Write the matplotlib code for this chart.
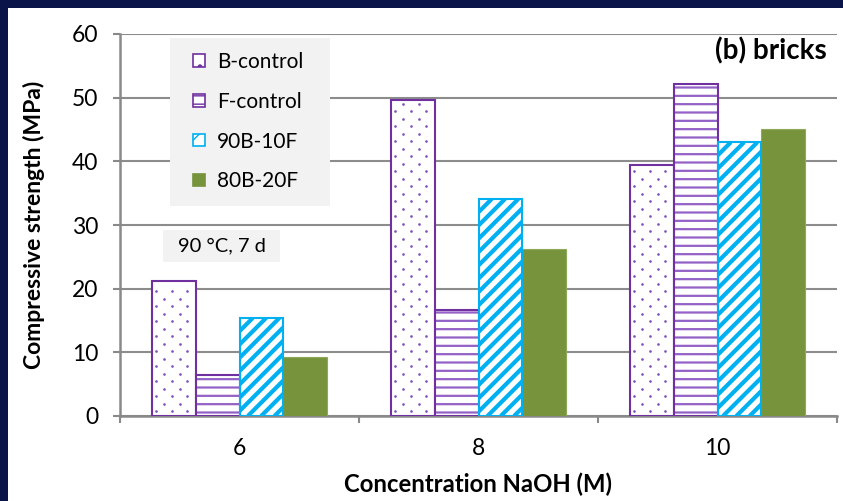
import matplotlib.pyplot as plt
from matplotlib.patches import Rectangle, Patch
from matplotlib.collections import LineCollection
import numpy as np

# compressive strength (MPa) of brick mixes vs NaOH concentration
concentrations = ['6', '8', '10']
series_names = ['B-control', 'F-control', '90B-10F', '80B-20F']
b_control = [21.2, 49.6, 39.5]
f_control = [6.5, 16.7, 52.1]
b90_f10 = [15.4, 34.1, 43.0]
b80_f20 = [9.2, 26.3, 45.1]

plt.rcParams['font.family'] = ['Lato', 'DejaVu Sans']

PURPLE = '#7030A0'
LILAC = '#9461C6'
CYAN = '#00B0F0'
GREEN = '#77933C'
GREY_BOX = '#F2F2F2'

fig = plt.figure(figsize=(8.43, 5.01), dpi=100)
fig.patch.set_facecolor('#0A1448')
# white panel inside the dark frame
fig.add_artist(Rectangle((8 / 843, 0), 1, (501 - 8) / 501, transform=fig.transFigure,
                         facecolor='white', edgecolor='none', zorder=-10))

ax = fig.add_axes([120 / 843, 85 / 501, 717 / 843, 382 / 501])
ax.set_facecolor('none')
ax.set_zorder(2)
ax.set_xlim(-0.5, 2.5)
ax.set_ylim(0, 60)

x = np.arange(len(concentrations))
width = 0.183
pos = [x + (i - 1.5) * width for i in range(4)]

# B-control: white bars, purple outline, dotted fill added below
b_bars = ax.bar(pos[0], b_control, width, facecolor='white', edgecolor=PURPLE,
                linewidth=1.5, zorder=3)

# F-control: light purple horizontal lines under a darker outline
with plt.rc_context({'hatch.linewidth': 1.6}):
    f_fill = ax.bar(pos[1], f_control, width, facecolor='white', edgecolor=LILAC,
                    hatch='--', linewidth=0, zorder=3)
for p in f_fill:
    if hasattr(p, 'set_hatch_linewidth'):
        p.set_hatch_linewidth(1.6)
ax.bar(pos[1], f_control, width, fill=False, edgecolor=PURPLE, linewidth=1.5, zorder=3.3)

# 90B-10F: white bars with cyan diagonal stripes, outline on top
c_bars = ax.bar(pos[2], b90_f10, width, facecolor='white', edgecolor='none',
                linewidth=0, zorder=3)
ax.bar(pos[2], b90_f10, width, fill=False, edgecolor=CYAN, linewidth=1.5, zorder=3.3)

# 80B-20F: solid green
ax.bar(pos[3], b80_f20, width, facecolor=GREEN, edgecolor='#8FA95A',
       linewidth=0.8, zorder=3)

inv = ax.transData.inverted()


def pixel_box(p):
    return ax.transData.transform(
        [(p.get_x(), 0), (p.get_x() + p.get_width(), p.get_height())])


# dot texture for the B-control bars (staggered rows, pixel spacing)
for p in b_bars:
    (x0, y0), (x1, y1) = pixel_box(p)
    pts = []
    row = 0
    yy = y0 + 5
    while yy < y1 - 3:
        xs = np.arange(x0 + 4 + (7.8 if row % 2 else 0), x1 - 2, 15.7)
        pts += [(xv, yy) for xv in xs]
        yy += 7.5
        row += 1
    d = inv.transform(np.array(pts))
    ax.scatter(d[:, 0], d[:, 1], s=3.6, color='#8250B8', linewidths=0, zorder=3.5)

# stripe texture for the 90B-10F bars
for p in c_bars:
    (x0, y0), (x1, y1) = pixel_box(p)
    h = y1 - y0
    segs = [inv.transform([(c, y0), (c + h, y1)])
            for c in np.arange(x0 - h - 13.3, x1 + 13.3, 13.3)]
    lc = LineCollection(segs, colors=CYAN, linewidths=3.0, zorder=3.1)
    ax.add_collection(lc, autolim=False)
    lc.set_clip_path(p)

ax.set_yticks(range(0, 61, 10))
ax.set_xticks(x)
ax.set_xticklabels(concentrations)
ax.set_xticks([-0.5, 0.5, 1.5, 2.5], minor=True)
ax.tick_params(axis='x', which='major', length=0, labelsize=16.5, pad=15.5)
ax.tick_params(axis='x', which='minor', length=5, width=1.5, color='#898989', direction='out')
ax.tick_params(axis='y', length=5, width=1.5, color='#898989', labelsize=16.5, pad=10.5)

ax.grid(axis='y', color='#8C8C8C', linewidth=1.5, zorder=0)
for side in ['top', 'right']:
    ax.spines[side].set_visible(False)
for side in ['left', 'bottom']:
    ax.spines[side].set_color('#898989')
    ax.spines[side].set_linewidth(1.8)

ax.set_xlabel('Concentration NaOH (M)', fontsize=17.2, fontweight='bold')
ax.set_ylabel('Compressive strength (MPa)', fontsize=16.5, fontweight='bold')
ax.xaxis.set_label_coords(0.5, -0.149)
ax.yaxis.set_label_coords(-0.105, 0.5)

# legend on a grey panel
ax.add_patch(Rectangle((0.0697, 0.5497), 0.2232, 0.4398, transform=ax.transAxes,
                       facecolor=GREY_BOX, edgecolor='none', zorder=4))
handles = [
    Patch(facecolor='white', edgecolor=PURPLE, hatch='.', linewidth=1.2),
    Patch(facecolor='white', edgecolor=PURPLE, hatch='--', linewidth=1.2),
    Patch(facecolor='white', edgecolor=CYAN, hatch='//', linewidth=1.2),
    Patch(facecolor=GREEN, edgecolor=GREEN, linewidth=1.2),
]
leg = ax.legend(handles, series_names, loc='upper left', bbox_to_anchor=(0.102, 0.953),
                fontsize=15, frameon=False, borderpad=0, borderaxespad=0,
                handlelength=0.55, handleheight=0.55, handletextpad=0.6,
                labelspacing=0.95)
leg.set_zorder(5)

ax.text(0.986, 0.955, '(b) bricks', transform=ax.transAxes, fontsize=20,
        fontweight='bold', ha='right', va='center', zorder=5)

ax.add_patch(Rectangle((0.060, 0.403), 0.163, 0.084, transform=ax.transAxes,
                       facecolor=GREY_BOX, edgecolor='none', zorder=4))
ax.text(0.1416, 0.446, '90 °C, 7 d', transform=ax.transAxes, fontsize=14.5,
        ha='center', va='center', zorder=5)

fig.savefig('out.png', dpi=100, facecolor=fig.get_facecolor())
